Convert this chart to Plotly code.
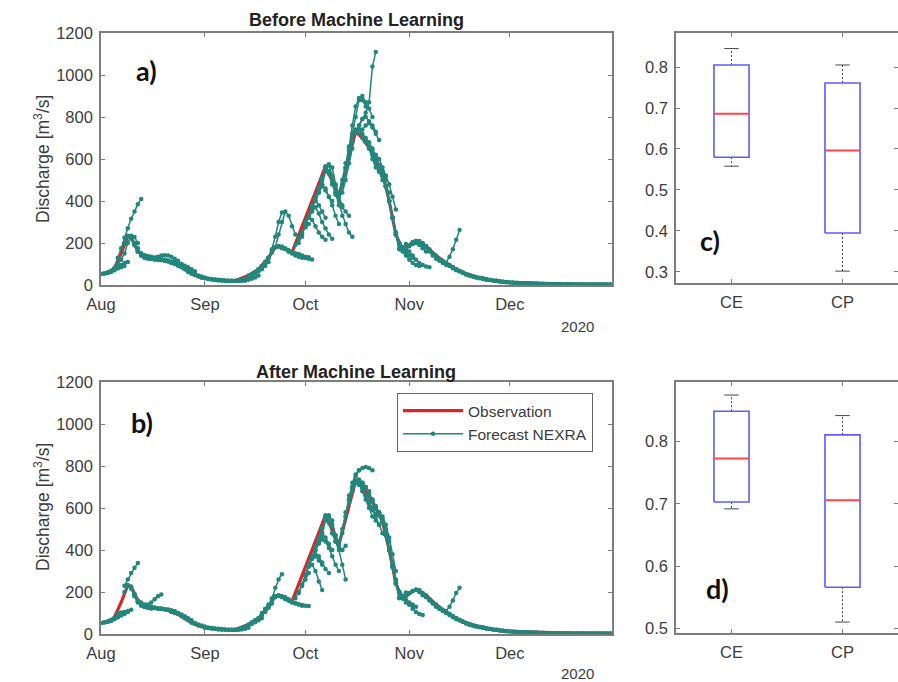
import pandas as pd
import plotly.graph_objects as go

W, H = 898, 682

# Observed discharge (m3/s) at key dates, Aug-Dec 2020
OBS_DATES = ["2020-08-01", "2020-08-03", "2020-08-05", "2020-08-07", "2020-08-09", "2020-08-10",
             "2020-08-12", "2020-08-14", "2020-08-17", "2020-08-20", "2020-08-23", "2020-08-25",
             "2020-08-28", "2020-08-31", "2020-09-03", "2020-09-07", "2020-09-10", "2020-09-14",
             "2020-09-17", "2020-09-20", "2020-09-22", "2020-09-24", "2020-09-27", "2020-10-07",
             "2020-10-11", "2020-10-16", "2020-10-18", "2020-10-21", "2020-10-24", "2020-10-26",
             "2020-10-28", "2020-10-30", "2020-11-03", "2020-11-06", "2020-11-09", "2020-11-12",
             "2020-11-16", "2020-11-21", "2020-11-26", "2020-12-01", "2020-12-10", "2020-12-20",
             "2020-12-31"]
OBS_VALUES = [52, 58, 80, 150, 232, 225, 160, 135, 125, 118,
              100, 85, 55, 35, 25, 20, 20, 45, 75, 130,
              180, 182, 155, 565, 425, 730, 700, 630, 535, 400,
              240, 170, 212, 185, 140, 105, 65, 38, 20, 11,
              6, 4, 3]

# NEXRA forecast runs: (issue date, daily forecast values)
FORECAST_BEFORE = [
    ("2020-08-01", [52, 56, 60, 68, 78, 88]),
    ("2020-08-02", [55, 58, 64, 72, 80, 85, 90]),
    ("2020-08-03", [58, 62, 70, 80, 95, 105, 110]),
    ("2020-08-05", [80, 130, 175, 225, 270, 315, 350, 385, 410]),
    ("2020-08-06", [100, 120, 150, 200, 235, 228, 200]),
    ("2020-08-08", [200, 235, 225, 190, 160, 140, 130, 125]),
    ("2020-08-09", [232, 220, 200, 175, 150, 140, 135, 132, 130, 128]),
    ("2020-08-10", [225, 190, 160, 140, 132, 128, 125, 122]),
    ("2020-08-11", [190, 160, 145, 140, 138, 135, 130, 128, 125, 120]),
    ("2020-08-12", [160, 150, 140, 132, 128, 125, 122, 120, 118, 115, 110]),
    ("2020-08-14", [135, 130, 125, 122, 120, 118, 115, 112, 110, 105, 100]),
    ("2020-08-16", [128, 130, 135, 140, 142, 140, 135, 125, 115, 100]),
    ("2020-08-18", [122, 120, 118, 115, 112, 108, 100, 92, 85, 75]),
    ("2020-08-20", [118, 115, 110, 108, 105, 100, 92, 85, 75, 65]),
    ("2020-08-22", [105, 100, 95, 90, 82, 72, 62, 52, 45, 40]),
    ("2020-08-24", [92, 85, 75, 65, 55, 48, 42, 38, 34, 30]),
    ("2020-08-27", [62, 55, 48, 42, 38, 34, 30, 28, 26, 25, 24]),
    ("2020-08-31", [35, 32, 28, 26, 25, 24, 22, 21, 20, 20, 20]),
    ("2020-09-04", [24, 22, 21, 20, 19, 19, 19, 20, 20, 21]),
    ("2020-09-08", [20, 20, 19, 20, 21, 22, 25, 30, 36, 45]),
    ("2020-09-11", [22, 25, 30, 38, 45, 55, 65, 75, 90, 110]),
    ("2020-09-14", [45, 52, 62, 75, 90, 110, 130, 155, 180]),
    ("2020-09-17", [75, 90, 110, 130, 160, 180, 185, 175]),
    ("2020-09-20", [130, 170, 230, 300, 345]),
    ("2020-09-22", [180, 240, 300, 350, 330, 280, 240]),
    ("2020-09-22", [180, 185, 182, 170, 160, 155, 150, 148]),
    ("2020-09-24", [182, 175, 165, 155, 150, 145, 140, 135, 132]),
    ("2020-09-26", [160, 150, 140, 135, 130, 128, 125, 122]),
    ("2020-09-28", [190, 220, 250, 275, 290]),
    ("2020-09-29", [200, 240, 285, 330, 375, 420, 465, 510, 550]),
    ("2020-09-30", [230, 300, 330, 310, 280, 250, 230, 215]),
    ("2020-10-01", [280, 330, 380, 400, 380, 350, 320]),
    ("2020-10-02", [320, 350, 370, 340, 300, 270, 240, 220]),
    ("2020-10-03", [360, 410, 460, 480, 450, 420, 400]),
    ("2020-10-04", [400, 440, 470, 460, 420, 380, 330, 290]),
    ("2020-10-05", [440, 500, 560, 570, 520, 470, 430]),
    ("2020-10-06", [480, 540, 575, 560, 480, 420, 380]),
    ("2020-10-07", [565, 540, 490, 440, 400, 370, 350, 330]),
    ("2020-10-08", [530, 480, 430, 380, 330, 290, 250, 230]),
    ("2020-10-09", [480, 440, 420, 440, 500, 580, 650]),
    ("2020-10-10", [440, 425, 470, 550, 620, 680]),
    ("2020-10-11", [425, 500, 580, 660, 720, 740]),
    ("2020-10-12", [480, 560, 650, 760, 850, 890, 880, 850]),
    ("2020-10-13", [560, 640, 720, 800, 880, 900, 870, 840, 800]),
    ("2020-10-14", [620, 700, 730, 740, 720, 700, 680, 650]),
    ("2020-10-16", [730, 760, 790, 820, 870, 1040, 1110]),
    ("2020-10-16", [730, 760, 790, 800, 780, 760, 730]),
    ("2020-10-17", [720, 740, 760, 770, 750, 720, 690]),
    ("2020-10-18", [700, 680, 660, 640, 620, 600, 560, 520]),
    ("2020-10-19", [680, 650, 600, 560, 540, 520, 500]),
    ("2020-10-20", [650, 620, 580, 540, 500, 470, 440]),
    ("2020-10-21", [630, 600, 570, 535, 470, 400, 320, 240, 200]),
    ("2020-10-22", [600, 570, 540, 520, 480, 420, 360]),
    ("2020-10-23", [570, 535, 470, 400, 320, 240, 175, 175]),
    ("2020-10-24", [535, 470, 400, 320, 250, 200, 170, 160]),
    ("2020-10-25", [470, 400, 320, 240, 170, 180, 195]),
    ("2020-10-26", [400, 320, 250, 200, 170, 150, 140, 130]),
    ("2020-10-28", [240, 190, 160, 140, 120, 105, 95, 90]),
    ("2020-10-30", [170, 175, 185, 195, 200, 190, 175, 160]),
    ("2020-10-31", [175, 160, 140, 120, 105, 95, 88, 85]),
    ("2020-11-02", [205, 210, 205, 195, 180, 160, 140, 125]),
    ("2020-11-04", [210, 200, 185, 170, 150, 130, 115, 105, 95]),
    ("2020-11-06", [185, 165, 150, 135, 120, 110, 100, 90, 80, 70]),
    ("2020-11-09", [140, 125, 115, 105, 95, 85, 75, 65, 58, 50]),
    ("2020-11-12", [105, 135, 170, 215, 262]),
    ("2020-11-12", [105, 95, 85, 75, 65, 58, 50, 44, 40, 36]),
    ("2020-11-15", [75, 68, 60, 52, 46, 40, 36, 32, 28, 25]),
    ("2020-11-19", [48, 42, 38, 34, 30, 27, 24, 22, 20, 18]),
    ("2020-11-23", [32, 28, 25, 22, 20, 18, 16, 14, 13, 12, 11]),
    ("2020-11-28", [17, 15, 13, 12, 11, 10, 9, 9, 8, 8, 7, 7]),
    ("2020-12-06", [8, 7, 7, 6, 6, 6, 5, 5, 5, 5, 5, 4, 4, 4]),
    ("2020-12-18", [4, 4, 4, 4, 4, 4, 3, 3, 3, 3, 3, 3, 3, 3]),
]

FORECAST_AFTER = [
    ("2020-08-01", [52, 56, 60, 66, 75, 85]),
    ("2020-08-02", [55, 58, 64, 72, 80, 88, 95]),
    ("2020-08-03", [58, 62, 70, 80, 95, 100, 105]),
    ("2020-08-06", [100, 102, 105, 110, 115]),
    ("2020-08-08", [230, 260, 290, 315, 338]),
    ("2020-08-08", [200, 232, 225, 190, 160, 140, 130]),
    ("2020-08-09", [232, 215, 180, 150, 135, 128, 125, 122]),
    ("2020-08-10", [225, 185, 155, 138, 130, 126, 123]),
    ("2020-08-11", [190, 155, 140, 135, 130, 128, 125, 122, 120]),
    ("2020-08-14", [135, 140, 150, 165, 180, 188]),
    ("2020-08-13", [150, 140, 132, 128, 125, 122, 120, 118, 115, 110]),
    ("2020-08-16", [128, 125, 122, 120, 118, 115, 112, 108, 100, 92]),
    ("2020-08-19", [120, 118, 115, 112, 108, 100, 92, 85, 75, 65]),
    ("2020-08-22", [105, 100, 95, 88, 80, 70, 60, 52, 45, 40]),
    ("2020-08-25", [85, 75, 65, 55, 48, 42, 38, 34, 30, 28]),
    ("2020-08-28", [55, 48, 42, 38, 34, 30, 28, 26, 25, 24]),
    ("2020-09-01", [30, 28, 26, 25, 24, 22, 21, 20, 20, 20]),
    ("2020-09-05", [22, 21, 20, 20, 19, 19, 20, 22, 25, 30]),
    ("2020-09-09", [20, 20, 22, 26, 32, 40, 48, 56, 65, 75]),
    ("2020-09-12", [28, 35, 45, 55, 65, 75, 90, 105, 125, 145]),
    ("2020-09-15", [55, 65, 75, 90, 110, 130, 155, 175, 182]),
    ("2020-09-18", [100, 120, 140, 165, 180, 185, 180, 170]),
    ("2020-09-19", [110, 135, 170, 220, 260, 285]),
    ("2020-09-22", [180, 182, 175, 165, 158, 150, 145, 140, 135]),
    ("2020-09-25", [175, 165, 155, 148, 142, 138, 135, 133]),
    ("2020-09-28", [170, 200, 230, 260, 290]),
    ("2020-09-29", [195, 235, 280, 325, 370, 415, 460, 505, 545]),
    ("2020-09-30", [230, 280, 330, 360, 370, 350, 330]),
    ("2020-10-01", [280, 320, 360, 380, 370, 340, 310, 290]),
    ("2020-10-02", [330, 330, 300, 250, 210]),
    ("2020-10-03", [360, 400, 440, 470, 460, 430, 400]),
    ("2020-10-04", [400, 430, 450, 440, 410, 370, 330, 300]),
    ("2020-10-05", [440, 500, 550, 560, 520, 470, 430]),
    ("2020-10-06", [480, 540, 565, 540, 470, 420, 400]),
    ("2020-10-07", [565, 530, 480, 440, 410, 400, 420]),
    ("2020-10-09", [480, 440, 400, 330, 260]),
    ("2020-10-10", [440, 430, 480, 560, 640, 700]),
    ("2020-10-11", [425, 500, 580, 660, 720, 760, 780]),
    ("2020-10-13", [560, 640, 700, 750, 780, 790, 795, 790, 780]),
    ("2020-10-14", [620, 680, 720, 735, 720, 700, 680]),
    ("2020-10-15", [680, 720, 735, 720, 700, 670, 640]),
    ("2020-10-16", [730, 710, 690, 660, 630, 600, 570]),
    ("2020-10-17", [720, 680, 640, 600, 560, 540, 520]),
    ("2020-10-18", [700, 660, 620, 590, 560, 520, 480]),
    ("2020-10-20", [660, 640, 610, 580, 550, 500, 440]),
    ("2020-10-21", [630, 600, 570, 535, 470, 400, 320, 240, 195]),
    ("2020-10-22", [600, 580, 560, 520, 460, 380, 300]),
    ("2020-10-23", [570, 535, 470, 400, 320, 240, 175, 178]),
    ("2020-10-24", [535, 480, 410, 330, 260, 200, 170, 160]),
    ("2020-10-25", [470, 400, 320, 240, 170, 182, 198]),
    ("2020-10-26", [400, 320, 250, 200, 170, 150, 140, 135]),
    ("2020-10-28", [240, 200, 175, 160, 150, 140, 130]),
    ("2020-10-29", [200, 180, 160, 140, 120, 105, 95, 90]),
    ("2020-10-30", [170, 180, 195, 205, 210, 200, 185]),
    ("2020-11-02", [205, 212, 205, 190, 175, 160, 145, 130]),
    ("2020-11-04", [210, 195, 180, 165, 150, 135, 120, 110, 100]),
    ("2020-11-06", [185, 165, 150, 135, 120, 110, 100, 90, 80, 70]),
    ("2020-11-09", [140, 125, 115, 105, 95, 85, 75, 65, 58, 50]),
    ("2020-11-12", [110, 130, 160, 195, 220]),
    ("2020-11-12", [105, 95, 85, 75, 65, 58, 50, 44, 40, 36]),
    ("2020-11-15", [75, 68, 60, 52, 46, 40, 36, 32, 28, 25]),
    ("2020-11-19", [48, 42, 38, 34, 30, 27, 24, 22, 20, 18]),
    ("2020-11-23", [32, 28, 25, 22, 20, 18, 16, 14, 13, 12, 11]),
    ("2020-11-28", [17, 15, 13, 12, 11, 10, 9, 9, 8, 8, 7, 7]),
    ("2020-12-06", [8, 7, 7, 6, 6, 6, 5, 5, 5, 5, 5, 4, 4, 4]),
    ("2020-12-18", [4, 4, 4, 4, 4, 4, 3, 3, 3, 3, 3, 3, 3, 3]),
]

# Skill-score box statistics: [lower whisker, Q1, median, Q3, upper whisker]
BOX_LABELS = ["CE", "CP"]
STATS_BEFORE_CE = [0.558, 0.580, 0.686, 0.805, 0.845]
STATS_BEFORE_CP = [0.302, 0.395, 0.596, 0.761, 0.805]
STATS_AFTER_CE = [0.692, 0.703, 0.773, 0.849, 0.875]
STATS_AFTER_CP = [0.510, 0.566, 0.706, 0.811, 0.842]

MONTH_TICKS = ["2020-08-01", "2020-09-01", "2020-10-01", "2020-11-01", "2020-12-01"]
MONTH_LABELS = ["Aug", "Sep", "Oct", "Nov", "Dec"]
Y_TICKS = [0, 200, 400, 600, 800, 1000, 1200]

RED = "rgb(214,38,40)"
TEAL = "rgb(34,134,124)"
BOX_BLUE = "rgb(92,92,255)"
MED_RED = "rgb(255,70,70)"
WHISK = "rgb(70,70,70)"
AX = "#7d7d7d"
TXT = "#3c3c3c"
FONT = "Liberation Sans, Arial, sans-serif"
TICK_SIZE = 16.5


def px(x):
    return x / W


def py(y):
    return 1 - y / H


def runs_to_xy(runs):
    xs, ys = [], []
    for start, vals in runs:
        days = pd.date_range(start, periods=len(vals), freq="D")
        xs.extend(list(days) + [None])
        ys.extend(list(vals) + [None])
    return xs, ys


fig = go.Figure()

obs_x = pd.to_datetime(OBS_DATES)
for i, runs in enumerate([FORECAST_BEFORE, FORECAST_AFTER]):
    xa = "x" if i == 0 else "x2"
    ya = "y" if i == 0 else "y2"
    fig.add_trace(go.Scatter(
        x=obs_x, y=OBS_VALUES, mode="lines", name="Observation",
        line=dict(color=RED, width=3.2), xaxis=xa, yaxis=ya,
        showlegend=(i == 1), legendgroup="obs"))
    fx, fy = runs_to_xy(runs)
    fig.add_trace(go.Scatter(
        x=fx, y=fy, mode="lines+markers", name="Forecast NEXRA",
        line=dict(color=TEAL, width=1.5), marker=dict(color=TEAL, size=4.5),
        connectgaps=False, xaxis=xa, yaxis=ya,
        showlegend=(i == 1), legendgroup="fc"))

# Box plots drawn as outlines on numeric positions 1 and 2
HALF = 0.158
CAP = 0.065
for stats_pair, xa, ya in [((STATS_BEFORE_CE, STATS_BEFORE_CP), "x3", "y3"),
                           ((STATS_AFTER_CE, STATS_AFTER_CP), "x4", "y4")]:
    for pos, s in zip([1, 2], stats_pair):
        lo, q1, med, q3, hi = s
        # whiskers
        fig.add_trace(go.Scatter(
            x=[pos, pos, None, pos, pos], y=[q3, hi, None, q1, lo], mode="lines",
            line=dict(color=WHISK, width=1, dash="2px,2px"),
            xaxis=xa, yaxis=ya, showlegend=False, hoverinfo="skip"))
        fig.add_trace(go.Scatter(
            x=[pos - CAP, pos + CAP, None, pos - CAP, pos + CAP], y=[hi, hi, None, lo, lo],
            mode="lines", line=dict(color=WHISK, width=1),
            xaxis=xa, yaxis=ya, showlegend=False, hoverinfo="skip"))
        # box
        fig.add_trace(go.Scatter(
            x=[pos - HALF, pos + HALF, pos + HALF, pos - HALF, pos - HALF],
            y=[q1, q1, q3, q3, q1], mode="lines",
            line=dict(color=BOX_BLUE, width=1.6),
            xaxis=xa, yaxis=ya, showlegend=False, hoverinfo="skip"))
        # median
        fig.add_trace(go.Scatter(
            x=[pos - HALF, pos + HALF], y=[med, med], mode="lines",
            line=dict(color=MED_RED, width=2),
            xaxis=xa, yaxis=ya, showlegend=False, hoverinfo="skip"))

common_axis = dict(showline=True, linecolor=AX, linewidth=1.6, mirror="ticks",
                   ticks="inside", ticklen=4, tickcolor=AX, showgrid=False,
                   zeroline=False, automargin=False,
                   tickfont=dict(family=FONT, size=TICK_SIZE, color=TXT))

time_x = dict(common_axis, type="date", range=["2020-08-01", "2020-12-31 12:00"],
              tickvals=MONTH_TICKS, ticktext=MONTH_LABELS, ticklabelstandoff=3)
time_y = dict(common_axis, range=[0, 1200], tickvals=Y_TICKS, ticklabelstandoff=3)

fig.update_layout(
    width=W, height=H, margin=dict(l=0, r=0, t=0, b=0, autoexpand=False),
    paper_bgcolor="white", plot_bgcolor="white",
    font=dict(family=FONT, color=TXT),
    xaxis=dict(time_x, domain=[px(101), px(612)], anchor="y"),
    yaxis=dict(time_y, domain=[py(285), py(33)], anchor="x"),
    xaxis2=dict(time_x, domain=[px(101), px(612)], anchor="y2"),
    yaxis2=dict(time_y, domain=[py(634), py(382)], anchor="x2"),
    xaxis3=dict(common_axis, domain=[px(676), 1.0], anchor="y3", range=[0.5, 2.5],
                tickvals=[1, 2], ticktext=BOX_LABELS, ticklabelstandoff=3),
    yaxis3=dict(common_axis, domain=[py(283), py(33)], anchor="x3", range=[0.273, 0.883],
                tickvals=[0.3, 0.4, 0.5, 0.6, 0.7, 0.8], tickformat=".1f", ticklabelstandoff=3),
    xaxis4=dict(common_axis, domain=[px(676), 1.0], anchor="y4", range=[0.5, 2.5],
                tickvals=[1, 2], ticktext=BOX_LABELS, ticklabelstandoff=3),
    yaxis4=dict(common_axis, domain=[py(633), py(382)], anchor="x4", range=[0.4924, 0.896],
                tickvals=[0.5, 0.6, 0.7, 0.8], tickformat=".1f", ticklabelstandoff=3),
    legend=dict(x=px(397), y=py(393), xanchor="left", yanchor="top",
                bgcolor="white", bordercolor="#666", borderwidth=1,
                font=dict(family=FONT, size=15.5, color=TXT), itemwidth=60,
                tracegroupgap=0),
    showlegend=True,
)

annos = [
    dict(x=px(356), y=py(20), text="<b>Before Machine Learning</b>", size=18, fam=FONT, col="#222"),
    dict(x=px(356), y=py(372), text="<b>After Machine Learning</b>", size=18, fam=FONT, col="#222"),
    dict(x=px(577), y=py(326), text="2020", size=15, fam=FONT, col=TXT),
    dict(x=px(577), y=py(673), text="2020", size=15, fam=FONT, col=TXT),
    dict(x=px(146), y=py(70), text="<b>a)</b>", size=27, fam="Lato, Open Sans, sans-serif", col="#111"),
    dict(x=px(142), y=py(422), text="<b>b)</b>", size=27, fam="Lato, Open Sans, sans-serif", col="#111"),
    dict(x=px(710), y=py(240), text="<b>c)</b>", size=27, fam="Lato, Open Sans, sans-serif", col="#111"),
    dict(x=px(717), y=py(588), text="<b>d)</b>", size=27, fam="Lato, Open Sans, sans-serif", col="#111"),
]
for a in annos:
    fig.add_annotation(x=a["x"], y=a["y"], xref="paper", yref="paper", text=a["text"],
                       showarrow=False, xanchor="center", yanchor="middle",
                       font=dict(family=a["fam"], size=a["size"], color=a["col"]))

for yc in [159, 507]:
    fig.add_annotation(x=px(42), y=py(yc), xref="paper", yref="paper",
                       text="Discharge [m<sup>3</sup>/s]", textangle=-90, showarrow=False,
                       xanchor="center", yanchor="middle",
                       font=dict(family=FONT, size=17.5, color=TXT))

fig.write_html("out.html")
